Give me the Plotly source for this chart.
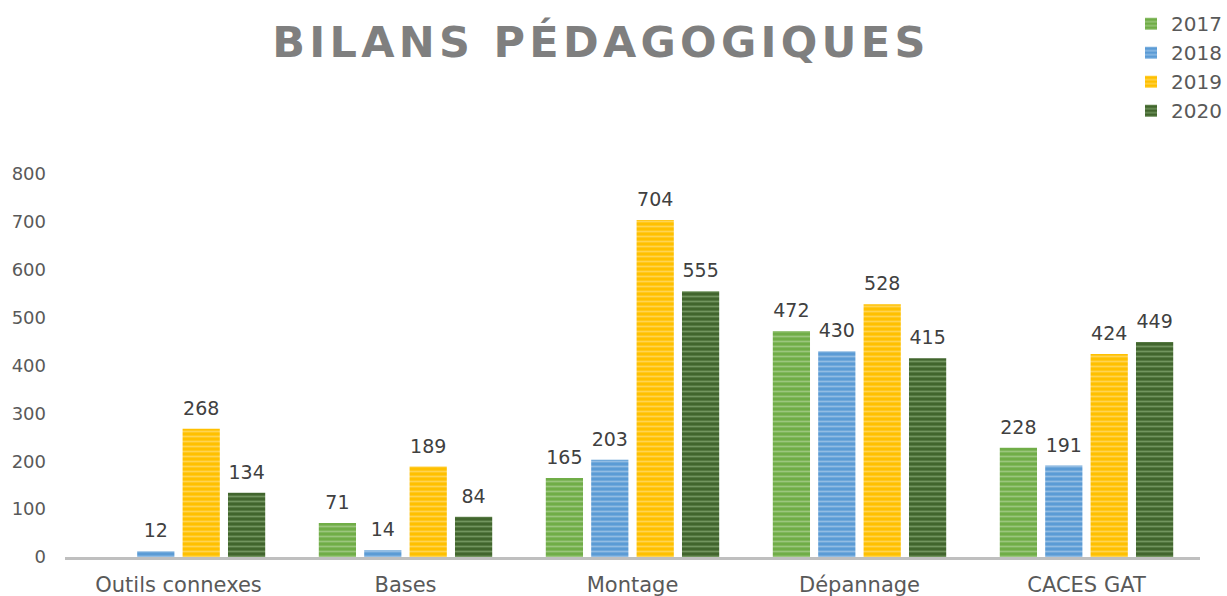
import plotly.graph_objects as go

categories = ["Outils connexes", "Bases", "Montage", "Dépannage", "CACES GAT"]
years = ["2017", "2018", "2019", "2020"]
values_2017 = [None, 71, 165, 472, 228]
values_2018 = [12, 14, 203, 430, 191]
values_2019 = [268, 189, 704, 528, 424]
values_2020 = [134, 84, 555, 415, 449]
y_ticks = [0, 100, 200, 300, 400, 500, 600, 700, 800]

series = [values_2017, values_2018, values_2019, values_2020]
base_colors = ["#70AD47", "#5B9BD5", "#FFC000", "#41652D"]
stripe_colors = ["#C5E0B4", "#C9DEF2", "#FFE8A3", "#A3C592"]

FONT = "DejaVu Sans"

fig = go.Figure()
for name, vals, base, stripe in zip(years, series, base_colors, stripe_colors):
    fig.add_trace(go.Bar(
        name=name,
        x=categories,
        y=vals,
        offsetgroup=name,
        marker=dict(
            color=base,
            line=dict(width=0),
            pattern=dict(shape="-", fgcolor=stripe, size=5, solidity=0.35,
                         fillmode="overlay"),
        ),
        hoverinfo="x+y+name",
    ))

# value labels, grouped like the bars; an invisible marker lifts each label
for name, vals in zip(years, series):
    fig.add_trace(go.Scatter(
        x=categories,
        y=vals,
        offsetgroup=name,
        mode="markers+text",
        text=[("" if v is None else str(v)) for v in vals],
        textposition="top center",
        textfont=dict(family=FONT, size=19, color="#404040"),
        marker=dict(size=13, opacity=0),
        showlegend=False,
        hoverinfo="skip",
        cliponaxis=False,
    ))

title_text = "\u200a".join("BILANS PÉDAGOGIQUES")

fig.update_layout(
    width=1227,
    height=596,
    margin=dict(l=65, r=27, t=174, b=39),
    paper_bgcolor="white",
    plot_bgcolor="white",
    barmode="group",
    scattermode="group",
    bargap=0.2,
    bargroupgap=0.18,
    font=dict(family=FONT, color="#595959"),
    title=dict(
        text=title_text,
        x=0.488, xanchor="center",
        y=0.93, yanchor="middle",
        font=dict(family=FONT, size=43, color="#7F7F7F", weight="bold"),
    ),
    legend=dict(
        x=1.031, xanchor="right",
        y=0.993, yanchor="top",
        yref="container",
        font=dict(family=FONT, size=20, color="#595959"),
        itemwidth=30,
        tracegroupgap=0,
        bgcolor="rgba(0,0,0,0)",
    ),
    xaxis=dict(
        showline=True, linecolor="#BFBFBF", linewidth=3,
        ticks="", showgrid=False,
        automargin=False,
        ticklabelstandoff=7,
        tickfont=dict(family=FONT, size=21, color="#595959"),
    ),
    yaxis=dict(
        range=[0, 800],
        tickvals=y_ticks,
        showgrid=False, zeroline=False, showline=False,
        ticks="", ticklabelstandoff=18,
        automargin=False,
        tickfont=dict(family=FONT, size=18, color="#595959"),
    ),
)

fig.write_html("out.html")
